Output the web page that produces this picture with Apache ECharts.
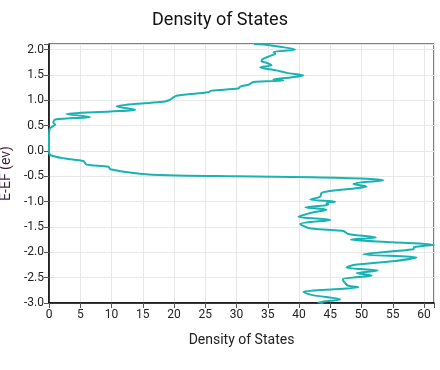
<!DOCTYPE html>
<html>
<head>
<meta charset="utf-8">
<script src="https://cdn.jsdelivr.net/npm/echarts@6/dist/echarts.min.js"></script>
<style>html,body{margin:0;padding:0;background:#fff}#c{width:440px;height:370px}</style>
</head>
<body>
<div id="c"></div>
<script>
// Energy (E-EF, eV), ordered top to bottom
const energy = [2.11, 2.085, 2.085, 2.0, 1.95, 1.92, 1.88, 1.82, 1.77, 1.74, 1.69, 1.65, 1.59, 1.54, 1.49, 1.45, 1.41, 1.39, 1.36, 1.31, 1.27, 1.23, 1.19, 1.16, 1.09, 1.03, 1.0, 0.97, 0.93, 0.88, 0.81, 0.78, 0.73, 0.67, 0.62, 0.56, 0.52, 0.48, 0.43, 0.3, 0.0, -0.08, -0.15, -0.2, -0.27, -0.31, -0.36, -0.45, -0.48, -0.5, -0.52, -0.55, -0.58, -0.62, -0.65, -0.7, -0.73, -0.8, -0.83, -0.9, -0.96, -1.0, -1.03, -1.06, -1.11, -1.16, -1.22, -1.3, -1.36, -1.44, -1.52, -1.56, -1.58, -1.64, -1.71, -1.75, -1.8, -1.85, -1.9, -1.94, -2.04, -2.1, -2.17, -2.25, -2.3, -2.36, -2.41, -2.46, -2.53, -2.61, -2.66, -2.69, -2.73, -2.78, -2.84, -2.93, -2.99, -3.0];
// Density of states
const dos = [32.8, 35.4, 35.4, 39.4, 35.9, 36.2, 35.5, 34.3, 34.0, 34.8, 35.6, 33.8, 36.4, 38.0, 40.7, 38.6, 35.9, 37.5, 32.7, 32.0, 30.6, 30.3, 26.0, 25.5, 20.4, 19.6, 19.2, 18.3, 14.0, 10.8, 13.8, 9.8, 2.8, 6.6, 1.0, 0.7, 1.0, 0.5, 0.1, 0, 0, 0.2, 2.6, 5.5, 6.0, 9.5, 9.8, 14.6, 19.1, 30, 42, 50.8, 53.5, 50, 48.7, 50.8, 49.5, 44.5, 43.6, 43.4, 41.8, 45.8, 44.4, 44.7, 41.0, 44.4, 42, 39.9, 45.0, 40.2, 41.5, 45, 47.1, 47.9, 52.3, 48.3, 55, 61.6, 58.4, 58.3, 50.3, 58.8, 55.4, 48.7, 47.6, 52.6, 49.2, 51.6, 47.0, 47.4, 47.9, 49.5, 45.5, 40.7, 42.0, 46.6, 43.1, 43.9];
const xTicks = [0, 5, 10, 15, 20, 25, 30, 35, 40, 45, 50, 55, 60];
const yTicks = [-3.0, -2.5, -2.0, -1.5, -1.0, -0.5, 0.0, 0.5, 1.0, 1.5, 2.0];

const pts = energy.map((e, i) => [dos[i], e]);
const chart = echarts.init(document.getElementById('c'));
const font = 'Roboto, "Noto Sans", sans-serif';
chart.setOption({
  animation: false,
  title: {
    text: 'Density of States', left: 'center', top: 6,
    textStyle: {fontFamily: font, fontSize: 18, fontWeight: 'normal', color: '#111'}
  },
  grid: {left: 49, right: 6, top: 44, bottom: 67, containLabel: false, outerBoundsMode: 'none',
    show: true, borderColor: '#000', borderWidth: 1},
  xAxis: {
    type: 'value', min: 0, max: 'dataMax', interval: 5,
    name: 'Density of States', nameLocation: 'middle', nameGap: 30,
    nameTextStyle: {fontFamily: font, fontSize: 14, color: '#222'},
    axisLine: {show: true, onZero: false, lineStyle: {color: '#000', width: 1.5}},
    axisTick: {show: true, length: 5, lineStyle: {color: '#555'}},
    axisLabel: {fontFamily: font, fontSize: 12, color: '#222', margin: 6,
      formatter: v => xTicks.includes(v) ? String(v) : ''},
    splitLine: {show: true, lineStyle: {color: '#e8e8e8'}}
  },
  yAxis: {
    type: 'value', min: -3, max: 'dataMax', interval: 0.5,
    name: 'E-EF (ev)', nameLocation: 'middle', nameGap: 30,
    nameTextStyle: {fontFamily: font, fontSize: 14, color: '#3b1e3b'},
    axisLine: {show: true, onZero: false, lineStyle: {color: '#000', width: 1.5}},
    axisTick: {show: true, length: 5, lineStyle: {color: '#555'}},
    axisLabel: {fontFamily: font, fontSize: 12, color: '#222', margin: 5,
      formatter: v => {
        const t = yTicks.find(k => Math.abs(k - v) < 1e-6);
        return t === undefined ? '' : t.toFixed(1);
      }},
    splitLine: {show: true, lineStyle: {color: '#e8e8e8'}}
  },
  series: [{
    type: 'line', data: pts, smooth: 0.3, showSymbol: false,
    lineStyle: {color: '#1ab3b3', width: 2}, clip: true
  }]
});
</script>
</body>
</html>
